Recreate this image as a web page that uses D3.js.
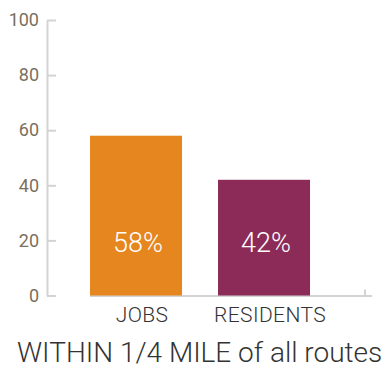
<!DOCTYPE html>
<html>
<head>
<meta charset="utf-8">
<script src="https://cdn.jsdelivr.net/npm/d3@7"></script>
<style>
  html, body { margin: 0; padding: 0; background: #fff; }
  svg { display: block; font-family: Roboto, "Liberation Sans", sans-serif; }
</style>
</head>
<body>
<svg id="chart" width="385" height="375"></svg>
<script>
// Share of jobs and residents within 1/4 mile of all routes
const categories = ["JOBS", "RESIDENTS"];
const shares = [58, 42];
const barColors = ["#E5861F", "#8C2B57"];
const yTicks = [0, 20, 40, 60, 80, 100];
const caption = "WITHIN 1/4 MILE of all routes";

const svg = d3.select("#chart");

const y = d3.scaleLinear().domain([0, 100]).range([295.5, 20]);

const x = d3.scaleBand()
  .domain(categories)
  .range([47, 365])
  .paddingInner(0.28125)
  .paddingOuter(0.3828)
  .align(0.439);

// Vertical axis: light rule, inward ticks, muted labels
const yAxis = svg.append("g")
  .attr("transform", "translate(47,0)")
  .call(d3.axisLeft(y).tickValues(yTicks).tickSize(-9).tickSizeOuter(0).tickPadding(8));
yAxis.select(".domain").attr("stroke", "#d3d3d3").attr("stroke-width", 2);
yAxis.selectAll(".tick line").attr("stroke", "#d3d3d3").attr("stroke-width", 2);
yAxis.selectAll(".tick text")
  .attr("fill", "#7b6f5d")
  .style("font-size", "18px")
  .style("font-family", "Roboto, sans-serif");

// Baseline under the bars with an upward end tick
const baseY = y(0);
const xStart = x(categories[0]);
const xEnd = x.range()[1];
svg.append("path")
  .attr("d", `M${xStart},${baseY + 0.5}H${xEnd + 7}M${xEnd},${baseY + 0.5}V${baseY - 6}`)
  .attr("fill", "none")
  .attr("stroke", "#d3d3d3")
  .attr("stroke-width", 2);

// Bars
svg.append("g").selectAll("rect")
  .data(categories)
  .join("rect")
  .attr("x", d => x(d))
  .attr("width", x.bandwidth())
  .attr("y", (d, i) => y(shares[i]))
  .attr("height", (d, i) => y(0) - y(shares[i]))
  .attr("fill", (d, i) => barColors[i]);

// Value labels inside bars
svg.append("g").selectAll("text")
  .data(categories)
  .join("text")
  .attr("x", d => x(d) + x.bandwidth() / 2 + 2)
  .attr("y", 252)
  .attr("text-anchor", "middle")
  .attr("fill", "#fff")
  .style("font-size", "27px")
  .style("font-weight", 300)
  .text((d, i) => shares[i] + "%");

// Category labels
const xAxis = svg.append("g")
  .attr("transform", `translate(0,${baseY})`)
  .call(d3.axisBottom(x).tickSize(0).tickPadding(12));
xAxis.select(".domain").remove();
xAxis.selectAll(".tick text")
  .attr("fill", "#333")
  .attr("dx", 6)
  .style("font-size", "21px")
  .style("font-weight", 300)
  .style("letter-spacing", "0.4px")
  .style("font-family", "Roboto, sans-serif");

// Caption
svg.append("text")
  .attr("x", 17)
  .attr("y", 362)
  .attr("fill", "#333")
  .style("font-size", "28px")
  .style("font-weight", 300)
  .text(caption);
</script>
</body>
</html>
